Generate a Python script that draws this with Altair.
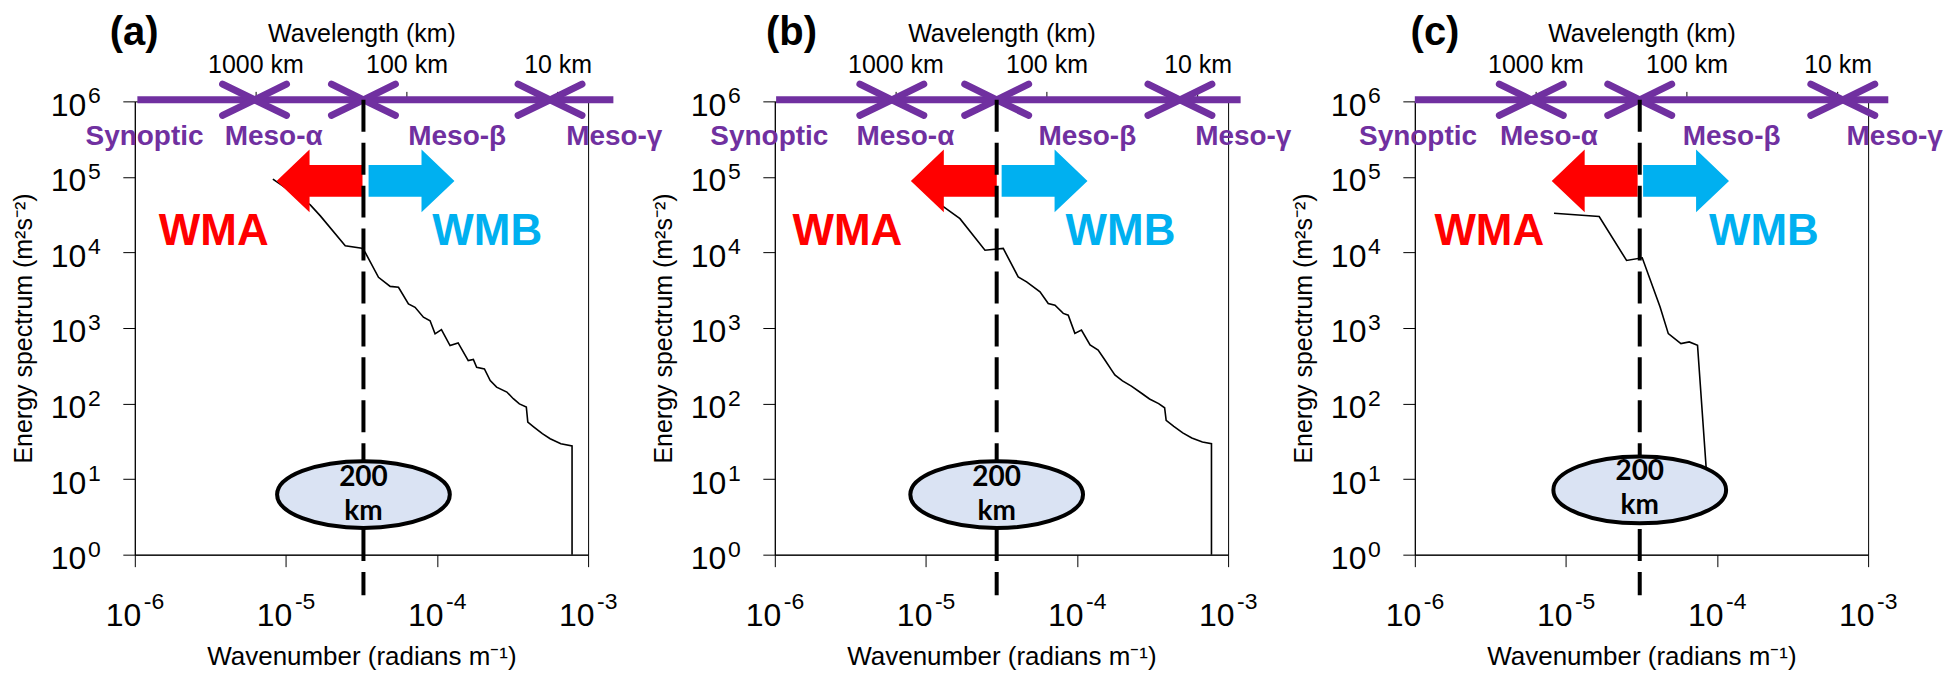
import math
import altair as alt
import pandas as pd

PURPLE = "#7030A0"
RED = "#FF0000"
BLUE = "#00B0F0"
ELLIPSE_FILL = "#DAE3F3"
FONT = "Liberation Sans"

panel_letters = ["(a)", "(b)", "(c)"]

# ---- spectra (wavenumber rad/m, energy m2 s-2) ----
wn_a = [8.2e-6, 1.45e-5, 1.69e-5, 2.47e-5, 3.18e-5, 3.35e-5, 4.10e-5, 4.90e-5, 5.56e-5,
        6.47e-5, 7.16e-5, 8.13e-5, 9.0e-5, 9.71e-5, 1.07e-4, 1.22e-4, 1.38e-4, 1.61e-4,
        1.74e-4, 1.83e-4, 2.06e-4, 2.25e-4, 2.48e-4, 2.90e-4, 3.20e-4, 3.51e-4, 3.90e-4,
        3.99e-4, 4.38e-4, 4.98e-4, 5.61e-4, 6.60e-4, 7.83e-4, 7.83e-4]
es_a = [9.33e4, 4.27e4, 3.05e4, 1.23e4, 1.14e4, 1.0e4, 4.69e3, 3.56e3, 3.46e3,
        2.08e3, 1.88e3, 1.39e3, 1.25e3, 836, 953, 585, 635, 371,
        383, 303, 288, 202, 165, 142, 116, 99, 90,
        57, 48.9, 39.9, 34.3, 29.4, 27.5, 1.0]

wn_b = [1.27e-5, 1.68e-5, 2.46e-5, 3.25e-5, 4.08e-5, 4.64e-5, 5.69e-5, 6.45e-5, 7.15e-5,
        8.11e-5, 8.75e-5, 9.68e-5, 1.07e-4, 1.22e-4, 1.38e-4, 1.53e-4, 1.69e-4, 1.78e-4,
        2.0e-4, 2.29e-4, 2.63e-4, 3.02e-4, 3.47e-4, 3.80e-4, 3.89e-4, 4.37e-4, 5.01e-4,
        5.75e-4, 6.76e-4, 7.76e-4, 7.76e-4]
es_b = [4.2e4, 2.8e4, 1.07e4, 1.13e4, 4.76e3, 4.09e3, 3.02e3, 2.11e3, 2.0e3,
        1.56e3, 1.48e3, 849, 940, 596, 512, 378, 279, 239,
        200, 170, 140, 115, 100, 88, 60, 50, 41,
        35, 31, 29.5, 1.0]

wn_c = [8.34e-6, 1.66e-5, 2.52e-5, 3.2e-5, 4.2e-5, 4.76e-5, 5.77e-5, 6.55e-5, 7.43e-5,
        8.42e-5, 8.6e-5]
es_c = [3.31e4, 2.99e4, 7.84e3, 8.5e3, 1.9e3, 843, 622, 655, 591,
        17, 9]

curves = [(wn_a, es_a), (wn_b, es_b), (wn_c, es_c)]

# ---- scale boundaries where the purple arrowheads meet (middle one = 200 km line) ----
bounds = [[6.2e-6, 3.26e-5, 5.6e-4],
          [5.95e-6, 2.94e-5, 4.8e-4],
          [5.9e-6, 3.08e-5, 6.8e-4]]
line_start = [1.04e-6, 1.02e-6, 1.0e-6]
line_end = [1.47e-3, 1.21e-3, 1.36e-3]
line_level = 1.05e6

scale_names = ["Synoptic", "Meso-α", "Meso-β", "Meso-γ"]
scale_x = [[1.16e-6, 8.3e-6, 1.36e-4, 1.49e-3],
           [9.2e-7, 7.31e-6, 1.17e-4, 1.26e-3],
           [1.05e-6, 7.73e-6, 1.25e-4, 1.50e-3]]
scale_label_level = 3.34e5

wm_names = ["WMA", "WMB"]
wm_colors = [RED, BLUE]
wm_x = [[3.33e-6, 2.15e-4], [3.02e-6, 1.94e-4], [3.11e-6, 2.04e-4]]
wm_level = 1.86e4

arrow_x = [[1.67e-5, 6.78e-5], [1.53e-5, 6.1e-5], [1.55e-5, 6.24e-5]]
arrow_level = 8.86e4

ellipse_lines = ["200", "km"]
ellipse_level = [6.24, 6.24, 7.2]
ellipse_text_level = [[10.5, 3.7], [10.5, 3.7], [12.3, 4.4]]
letter_x = [9.9e-7, 1.29e-6, 1.36e-6]
letter_level = 8.0e6
dash_top = 1.05e6
dash_bottom = 0.29

# axis ticks: base "10" plus exponents
tick_base = "10"
x_ticks = [1e-6, 1e-5, 1e-4, 1e-3]
x_exps = ["-6", "-5", "-4", "-3"]
y_ticks = [1, 10, 100, 1e3, 1e4, 1e5, 1e6]
y_exps = ["0", "1", "2", "3", "4", "5", "6"]
top_km = [1000, 100, 10]
top_labels = ["1000 km", "100 km", "10 km"]
top_vals = [2 * math.pi / (km * 1000.0) for km in top_km]

# ---- symbol paths (unit box) ----
CHEV_RIGHT = "M -1 -0.49 L 0 0 L -1 0.49"
CHEV_LEFT = "M 1 -0.49 L 0 0 L 1 0.49"
ARROW_LEFT = "M -1 0 L -0.233 -0.733 L -0.233 -0.372 L 1 -0.372 L 1 0.372 L -0.233 0.372 L -0.233 0.733 Z"
ARROW_RIGHT = "M 1 0 L 0.233 -0.733 L 0.233 -0.372 L -1 -0.372 L -1 0.372 L 0.233 0.372 L 0.233 0.733 Z"
ELLIPSE = "M -1 0 A 1 0.387 0 1 1 1 0 A 1 0.387 0 1 1 -1 0 Z"

W = 454
H = 454


def label_expr(vals, labels):
    expr = f"'{labels[-1]}'"
    for v, l in reversed(list(zip(vals[:-1], labels[:-1]))):
        expr = f"datum.value < {v * 1.5!r} ? '{l}' : " + expr
    return expr


def make_panel(i):
    xs = alt.Scale(type="log", domain=[1e-6, 1e-3], nice=False)
    ys = alt.Scale(type="log", domain=[1, 1e6], nice=False)
    wn, es = curves[i]
    X = lambda f: alt.X(f, scale=xs, axis=None)
    Y = lambda f: alt.Y(f, scale=ys, axis=None)

    curve = alt.Chart(pd.DataFrame({"k": wn, "E": es, "o": list(range(len(wn)))})).mark_line(
        color="black", strokeWidth=1.6
    ).encode(
        x=alt.X("k:Q", scale=xs, axis=alt.Axis(
            orient="bottom", values=x_ticks, labelExpr=f"'{tick_base}'",
            title="Wavenumber (radians m⁻¹)", tickSize=12, labelPadding=34,
            labelAlign="right", labelOffset=6,
            labelFontSize=32, titleFontSize=26, titlePadding=12, labelFlush=False)),
        y=alt.Y("E:Q", scale=ys, axis=alt.Axis(
            orient="left", values=y_ticks, labelExpr=f"'{tick_base}'",
            title="Energy spectrum (m²s⁻²)", tickSize=12, labelPadding=37, labelOffset=4,
            labelFontSize=32, titleFontSize=25, titlePadding=14, labelFlush=False)),
        order="o:Q",
    )

    x_exp = alt.Chart(pd.DataFrame({"k": x_ticks, "t": x_exps})).mark_text(
        font=FONT, fontSize=23, align="left", baseline="middle", dx=9, color="black"
    ).encode(x=X("k:Q"), y=alt.value(H + 47), text="t:N")

    y_exp = alt.Chart(pd.DataFrame({"E": y_ticks, "t": y_exps})).mark_text(
        font=FONT, fontSize=23, align="left", baseline="middle", dy=-5, color="black"
    ).encode(x=alt.value(-47), y=Y("E:Q"), text="t:N")

    top_axis = alt.Chart(pd.DataFrame({"k": top_vals})).mark_point(opacity=0).encode(
        x=alt.X("k:Q", scale=xs, axis=alt.Axis(
            orient="top", values=top_vals, labelExpr=label_expr(top_vals, top_labels),
            title="Wavelength (km)", tickSize=10, labelPadding=14, domain=False,
            labelFontSize=25, titleFontSize=25, titlePadding=6, labelFlush=False)),
        y=alt.value(0),
    )

    pline = alt.Chart(pd.DataFrame({"a": [line_start[i]], "b": [line_end[i]], "E": [line_level]})).mark_rule(
        color=PURPLE, strokeWidth=7
    ).encode(x=X("a:Q"), x2="b:Q", y=Y("E:Q"))

    chev_df = pd.DataFrame({"k": bounds[i], "E": [line_level] * 3})
    chev_r = alt.Chart(chev_df).mark_point(
        shape=CHEV_RIGHT, filled=False, size=4096, stroke=PURPLE, strokeWidth=7,
        strokeCap="round", strokeJoin="round", opacity=1
    ).encode(x=X("k:Q"), y=Y("E:Q"))
    chev_l = alt.Chart(chev_df).mark_point(
        shape=CHEV_LEFT, filled=False, size=4096, stroke=PURPLE, strokeWidth=7,
        strokeCap="round", strokeJoin="round", opacity=1
    ).encode(x=X("k:Q"), y=Y("E:Q"))

    slabels = alt.Chart(pd.DataFrame({"k": scale_x[i], "E": [scale_label_level] * 4, "t": scale_names})).mark_text(
        font=FONT, fontWeight="bold", fontSize=28, color=PURPLE, align="center", baseline="middle"
    ).encode(x=X("k:Q"), y=Y("E:Q"), text="t:N")

    arrows = alt.Chart(pd.DataFrame({
        "k": arrow_x[i], "E": [arrow_level] * 2, "s": [ARROW_LEFT, ARROW_RIGHT], "c": [RED, BLUE]
    })).mark_point(filled=True, size=7396, opacity=1, strokeWidth=0).encode(
        x=X("k:Q"), y=Y("E:Q"),
        shape=alt.Shape("s:N", scale=None, legend=None),
        fill=alt.Fill("c:N", scale=None, legend=None),
    )

    wm = alt.Chart(pd.DataFrame({"k": wm_x[i], "E": [wm_level] * 2, "t": wm_names, "c": wm_colors})).mark_text(
        font=FONT, fontWeight="bold", fontSize=44, align="center", baseline="middle"
    ).encode(x=X("k:Q"), y=Y("E:Q"), text="t:N", color=alt.Color("c:N", scale=None, legend=None))

    dash = alt.Chart(pd.DataFrame({"k": [bounds[i][1]], "t": [dash_top], "b": [dash_bottom]})).mark_rule(
        color="black", strokeWidth=4, strokeDash=[32, 11]
    ).encode(x=X("k:Q"), y=Y("t:Q"), y2="b:Q")

    ell = alt.Chart(pd.DataFrame({"k": [bounds[i][1]], "E": [ellipse_level[i]]})).mark_point(
        shape=ELLIPSE, size=29929, filled=True, fill=ELLIPSE_FILL, stroke="black", strokeWidth=4, opacity=1
    ).encode(x=X("k:Q"), y=Y("E:Q"))
    ell_text = alt.Chart(pd.DataFrame({
        "k": [bounds[i][1]] * 2, "E": ellipse_text_level[i], "t": ellipse_lines
    })).mark_text(
        font="Lato", fontWeight="bold", fontSize=28, align="center", baseline="middle", color="black"
    ).encode(x=X("k:Q"), y=Y("E:Q"), text="t:N")

    letter = alt.Chart(pd.DataFrame({"k": [letter_x[i]], "E": [letter_level], "t": [panel_letters[i]]})).mark_text(
        font=FONT, fontWeight="bold", fontSize=40, align="center", baseline="middle", color="black"
    ).encode(x=X("k:Q"), y=Y("E:Q"), text="t:N")

    return alt.layer(
        curve, top_axis, x_exp, y_exp, pline, chev_r, chev_l, slabels, arrows, wm, dash, ell, ell_text, letter
    ).resolve_axis(x="independent", y="independent").properties(width=W, height=H)


chart = alt.hconcat(
    make_panel(0), make_panel(1), make_panel(2),
    spacing=187, bounds="flush",
    padding={"left": 2, "top": 4, "right": 0, "bottom": 0},
).configure_view(
    stroke="black", strokeWidth=1
).configure_axis(
    grid=False, domainColor="black", tickColor="black", labelColor="black", titleColor="black",
    labelFont=FONT, titleFont=FONT, titleFontWeight="normal", domainWidth=1, tickWidth=1,
)

chart.save("out.html", embed_options={"renderer": "svg", "actions": False})
